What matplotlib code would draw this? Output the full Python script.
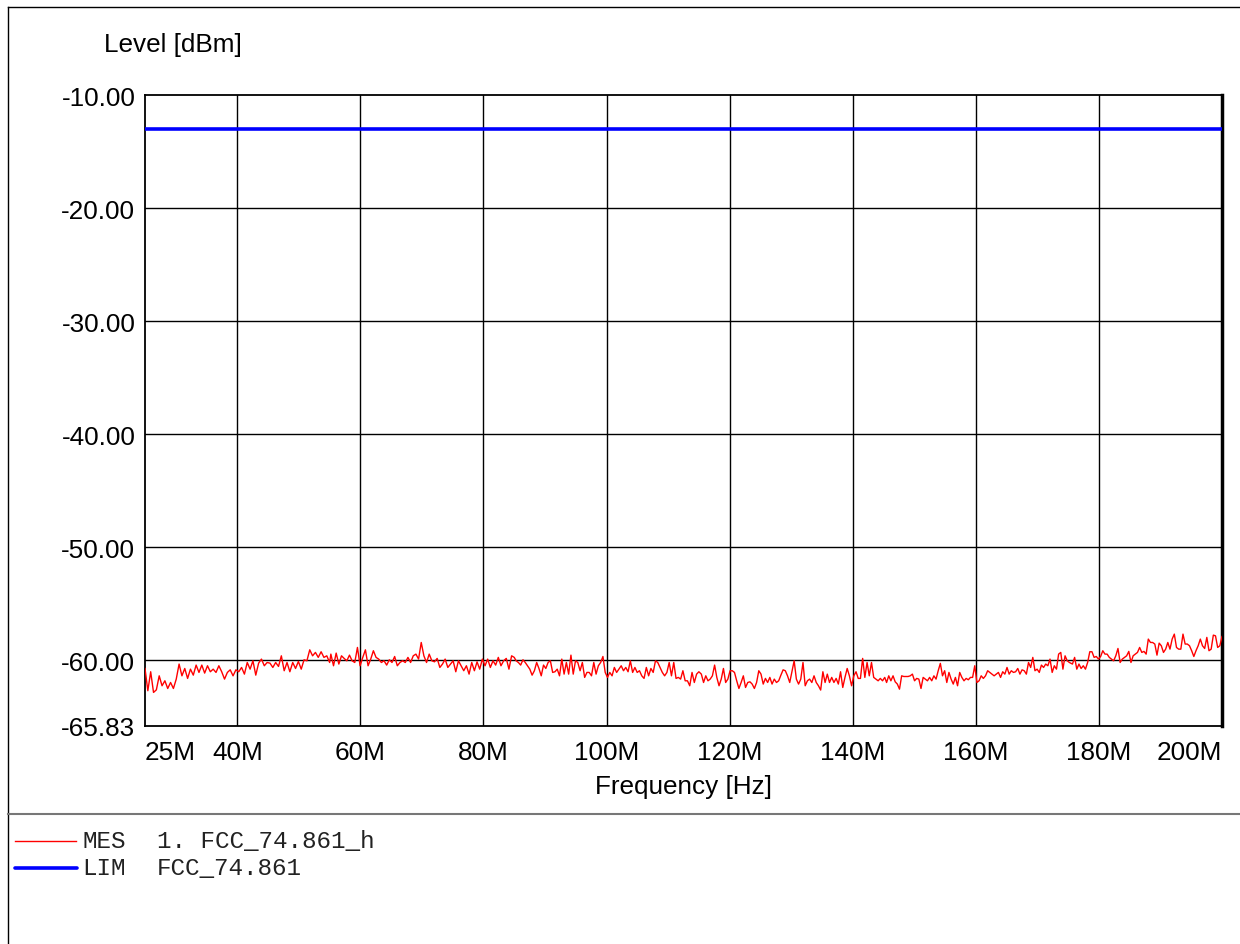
import numpy as np
import matplotlib
matplotlib.use("Agg")
import matplotlib.pyplot as plt
from matplotlib.lines import Line2D

# ---------------- data ----------------
x_ticks = [25, 40, 60, 80, 100, 120, 140, 160, 180, 200]          # MHz
x_tick_labels = ["25M", "40M", "60M", "80M", "100M", "120M", "140M", "160M", "180M", "200M"]
y_ticks = [-65.83, -60, -50, -40, -30, -20, -10]
y_tick_labels = ["-65.83", "-60.00", "-50.00", "-40.00", "-30.00", "-20.00", "-10.00"]

limit_freq = [25, 200]
limit_level = [-13.0, -13.0]

# measured trace, read segment by segment (start MHz, stop MHz, levels dBm)
seg1_range = (25.0, 55.0)
seg1 = [-60.74, -62.71, -61.03, -62.86, -62.63, -61.39, -62.27, -61.83, -62.51, -61.98,
        -62.51, -61.68, -60.35, -61.39, -60.74, -61.62, -60.80, -61.33, -60.44, -61.09,
        -60.44, -61.15, -60.50, -61.03, -60.80, -61.09, -60.50, -61.03, -61.68, -61.09,
        -60.86, -61.39, -60.86, -61.03, -60.65, -61.24, -60.21, -60.80, -60.06, -61.33,
        -60.27, -59.91, -60.50, -60.21, -60.27, -60.65, -60.21, -60.56, -59.62, -60.94,
        -60.21, -61.03, -60.21, -60.74, -60.12, -60.80, -59.97, -60.06, -59.09, -59.62,
        -59.32, -59.76, -59.26, -59.76, -59.62, -60.21]
seg2_range = (55.2, 85.0)
seg2 = [-59.47, -60.50, -59.38, -60.35, -59.62, -59.85, -60.06, -59.56, -60.06, -60.21,
        -58.88, -60.50, -59.76, -59.09, -60.50, -59.91, -59.17, -59.76, -59.91, -60.21,
        -60.06, -60.44, -59.97, -60.21, -59.68, -60.50, -60.21, -60.06, -60.21, -59.76,
        -60.21, -59.62, -59.47, -59.91, -58.44, -59.62, -60.21, -59.47, -60.06, -60.15,
        -59.85, -60.65, -60.35, -59.91, -60.65, -60.35, -60.06, -61.03, -60.06, -60.50,
        -60.94, -60.50, -61.24, -60.21, -60.94, -60.15, -60.80, -59.91, -60.50, -59.91,
        -60.65, -60.06, -60.44, -59.76, -60.50, -60.06, -59.85, -60.80, -59.62, -59.76]
seg3_range = (85.3, 115.0)
seg3 = [-60.06, -60.21, -60.44, -59.97, -60.21, -60.50, -60.80, -61.33, -60.94, -60.21,
        -60.74, -61.39, -60.44, -60.74, -60.21, -60.06, -61.09, -61.03, -60.80, -61.39,
        -59.91, -61.24, -60.21, -61.24, -59.56, -61.24, -60.06, -60.21, -60.94, -60.21,
        -61.53, -61.09, -61.09, -61.39, -60.21, -61.24, -60.50, -60.21, -59.68, -61.09,
        -61.53, -61.09, -61.39, -60.65, -61.09, -60.80, -60.50, -60.94, -60.65, -61.03,
        -60.06, -61.09, -60.65, -61.09, -60.94, -61.39, -61.62, -60.65, -61.39, -60.74,
        -61.09, -60.06, -60.21, -60.65, -61.09, -61.39, -61.09, -60.21, -61.39, -60.21,
        -61.62, -61.53, -61.68, -60.94, -61.83, -61.83, -62.27, -61.09, -61.98, -61.24,
        -61.03]
seg4_range = (115.4, 145.2)
seg4 = [-61.24, -61.98, -61.39, -61.83, -61.68, -61.39, -60.44, -61.53, -62.27, -61.68,
        -60.74, -61.98, -61.68, -60.94, -60.94, -61.09, -61.83, -62.51, -61.98, -61.39,
        -62.42, -61.98, -61.92, -62.12, -62.51, -61.98, -60.94, -61.24, -62.12, -61.62,
        -61.98, -61.53, -62.12, -61.68, -61.98, -61.83, -61.33, -60.86, -60.94, -61.39,
        -61.98, -61.03, -60.06, -61.68, -62.12, -61.68, -60.21, -62.27, -61.83, -61.68,
        -61.98, -61.39, -61.98, -62.27, -62.65, -61.03, -61.98, -61.24, -61.98, -61.53,
        -61.98, -61.62, -62.12, -61.03, -62.42, -61.53, -60.74, -61.39, -62.27, -61.39,
        -61.03, -61.62, -61.62, -59.85, -61.53, -60.21, -61.39, -60.21, -61.53, -61.68,
        -61.83, -61.62, -61.83, -61.53]
seg5_range = (145.5, 175.2)
seg5 = [-61.98, -61.39, -61.83, -61.39, -61.92, -62.12, -62.57, -61.39, -61.45, -61.45,
        -61.45, -61.39, -61.24, -61.83, -61.62, -61.68, -62.51, -61.53, -61.68, -61.83,
        -61.53, -61.83, -61.39, -61.68, -60.94, -60.29, -61.39, -60.94, -61.98, -61.09,
        -61.68, -62.12, -61.53, -62.27, -61.09, -61.53, -61.83, -61.62, -61.74, -61.53,
        -61.53, -60.50, -61.98, -61.83, -61.39, -61.62, -61.39, -60.94, -61.09, -61.24,
        -61.39, -61.24, -61.09, -61.53, -61.03, -61.24, -60.65, -61.24, -60.94, -61.09,
        -61.03, -60.74, -61.24, -60.86, -60.94, -61.24, -60.21, -60.65, -59.76, -60.94,
        -60.80, -61.09, -60.44, -60.65, -60.35, -60.50, -59.91, -61.09, -60.50, -60.80,
        -59.47, -59.32, -60.80, -59.62, -60.06, -60.21]
seg6_range = (175.7, 200.0)
seg6 = [-60.35, -59.76, -60.80, -60.35, -60.74, -60.50, -60.80, -60.21, -59.26, -59.26,
        -59.76, -59.68, -59.91, -59.68, -59.17, -59.47, -59.47, -59.76, -59.91, -60.06,
        -59.62, -58.97, -60.21, -59.91, -59.76, -59.62, -59.23, -60.21, -59.62, -59.47,
        -59.32, -58.88, -59.32, -59.23, -59.47, -58.14, -58.44, -58.44, -58.58, -59.56,
        -58.50, -58.73, -59.32, -59.03, -58.44, -59.03, -58.14, -57.70, -58.88, -59.03,
        -59.03, -57.70, -58.58, -58.58, -58.73, -59.17, -59.68, -59.17, -58.73, -58.14,
        -58.73, -58.97, -57.99, -59.17, -59.03, -57.79, -57.85, -58.88, -58.73, -57.91]

segments = [(seg1_range, seg1), (seg2_range, seg2), (seg3_range, seg3),
            (seg4_range, seg4), (seg5_range, seg5), (seg6_range, seg6)]
mes_freq = np.concatenate([np.linspace(r[0], r[1], len(v)) for r, v in segments])
mes_level = np.concatenate([np.asarray(v) for _, v in segments])

# ---------------- figure ----------------
W, H = 1240, 945
fig = plt.figure(figsize=(W / 100, H / 100), dpi=100)
fig.patch.set_facecolor("white")

def fx(px):
    return px / W

def fy(py):
    return 1 - py / H

ax = fig.add_axes([fx(145), fy(727), fx(1222) - fx(145), fy(96) - fy(727)])
ax.set_xlim(25, 200)
ax.set_ylim(-65.83, -10)

ax.plot(mes_freq, mes_level, color="#ff0000", lw=1.0, zorder=3)
ax.plot(limit_freq, limit_level, color="#0000ff", lw=2.6, zorder=4, solid_capstyle="butt")

ax.set_xticks(x_ticks)
ax.set_xticklabels(x_tick_labels)
ax.set_yticks(y_ticks)
ax.set_yticklabels(y_tick_labels)
font = "Liberation Sans"
for lab in ax.get_xticklabels() + ax.get_yticklabels():
    lab.set_fontfamily(font)
    lab.set_fontsize(18.8)
xl = ax.get_xticklabels()
xl[0].set_horizontalalignment("left")
xl[-1].set_horizontalalignment("right")
ax.tick_params(axis="both", length=0)
ax.tick_params(axis="x", pad=10)
ax.tick_params(axis="y", pad=7)

# grid lines (inner)
for xv in x_ticks[1:-1]:
    ax.axvline(xv, color="black", lw=1.0, zorder=1)
for yv in y_ticks[1:-1]:
    ax.axhline(yv, color="black", lw=1.0, zorder=1)

for s in ["left", "top", "bottom"]:
    ax.spines[s].set_linewidth(1.3)
    ax.spines[s].set_color("black")
ax.spines["right"].set_linewidth(2.5)

ax.set_xlabel("Frequency [Hz]", fontfamily=font, fontsize=18.8, labelpad=7)
fig.text(fx(104), fy(45), "Level [dBm]", fontfamily=font, fontsize=18.8,
         ha="left", va="center")

# outer frame and separator
fig.add_artist(Line2D([fx(8), fx(1240)], [fy(8), fy(8)], color="black", lw=1.0))
fig.add_artist(Line2D([fx(8), fx(8)], [fy(8), fy(945)], color="black", lw=1.0))
fig.add_artist(Line2D([fx(8), fx(1240)], [fy(815), fy(815)], color="#777777", lw=1.5))

# legend
mono = "Liberation Mono"
txt_col = "#222222"
fig.add_artist(Line2D([fx(15), fx(76)], [fy(842), fy(842)], color="#ff0000", lw=1.0))
fig.add_artist(Line2D([fx(15), fx(77)], [fy(869), fy(869)], color="#0000ff", lw=2.6,
                      solid_capstyle="round"))
fig.text(fx(82), fy(842), "MES", fontfamily=mono, fontsize=17.5, ha="left", va="center",
         color=txt_col)
fig.text(fx(157), fy(842), "1. FCC_74.861_h", fontfamily=mono, fontsize=17.5,
         ha="left", va="center", color=txt_col)
fig.text(fx(82), fy(869), "LIM", fontfamily=mono, fontsize=17.5, ha="left", va="center",
         color=txt_col)
fig.text(fx(157), fy(869), "FCC_74.861", fontfamily=mono, fontsize=17.5,
         ha="left", va="center", color=txt_col)

fig.savefig("out.png", dpi=100)
